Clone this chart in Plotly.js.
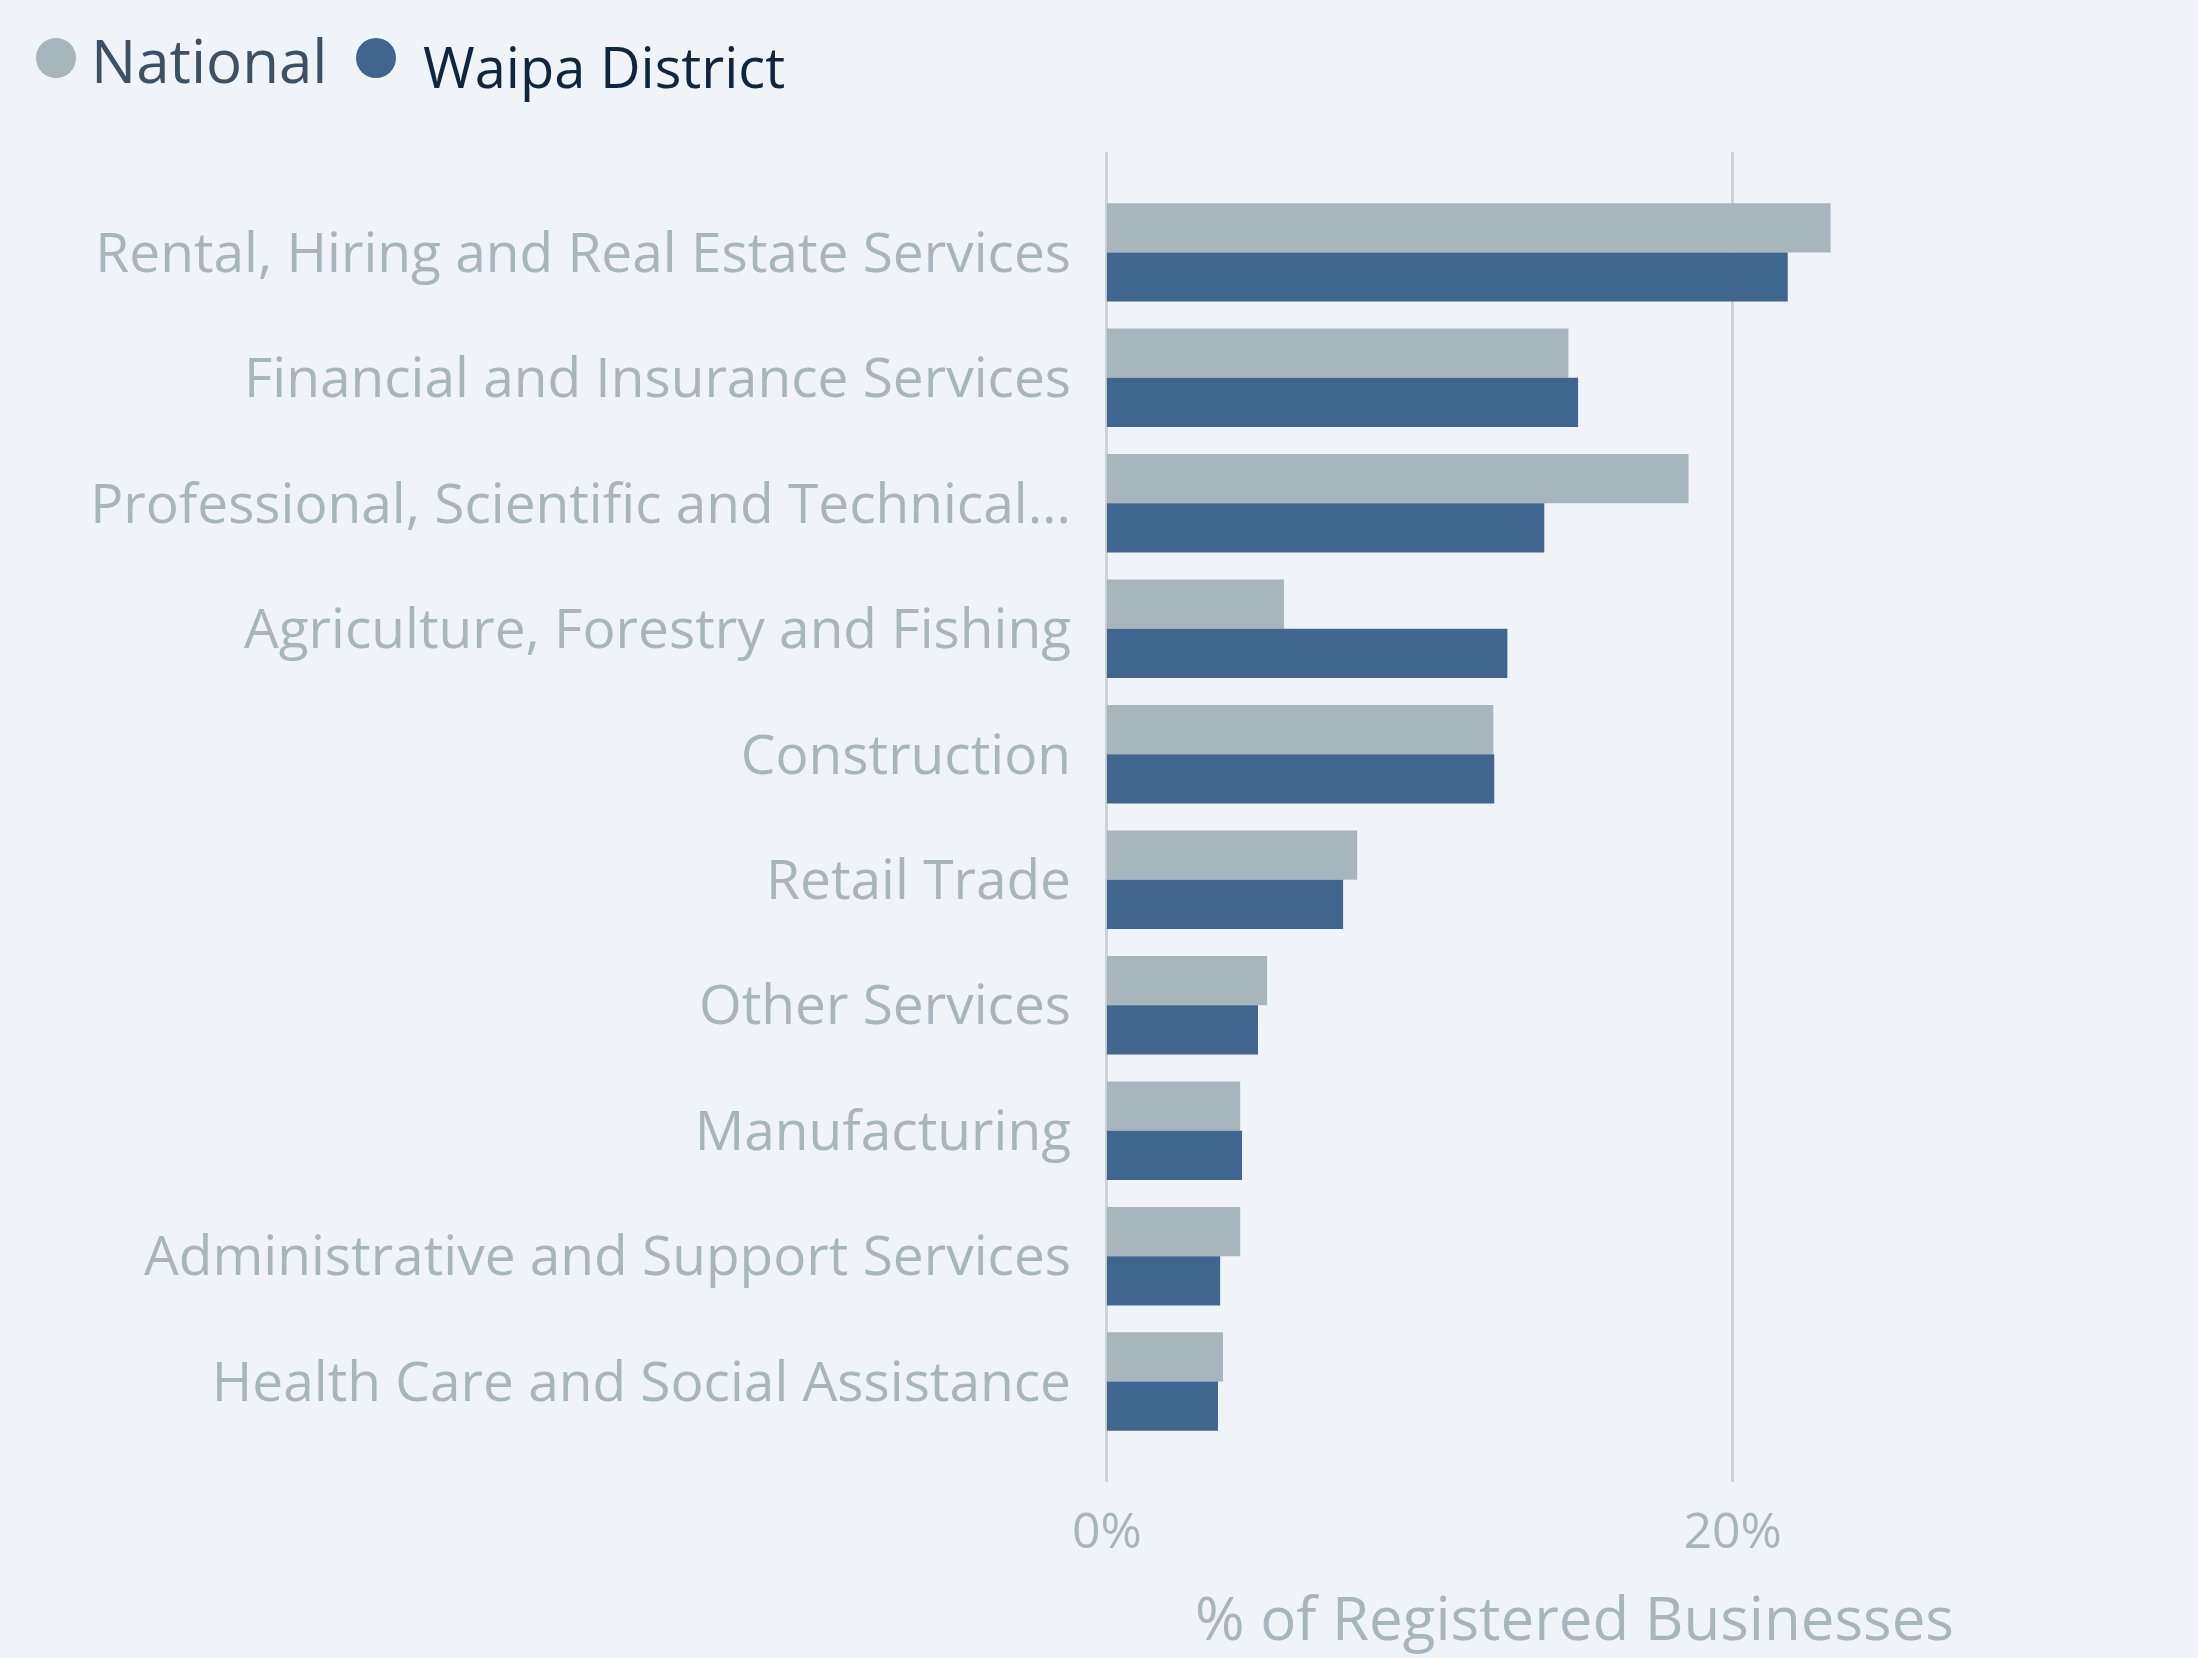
<!DOCTYPE html>
<html>
<head>
<meta charset="utf-8">
<script src="https://cdn.plot.ly/plotly-3.0.1.min.js"></script>
<style>
  html, body { margin: 0; padding: 0; background: #F0F4F8; }
  #chart { width: 2198px; height: 1658px; }
</style>
</head>
<body>
<div id="chart"></div>
<script>
const categories = [
  "Rental, Hiring and Real Estate Services",
  "Financial and Insurance Services",
  "Professional, Scientific and Technical...",
  "Agriculture, Forestry and Fishing",
  "Construction",
  "Retail Trade",
  "Other Services",
  "Manufacturing",
  "Administrative and Support Services",
  "Health Care and Social Assistance"
];
const nationalValues = [23.13, 14.75, 18.59, 5.66, 12.35, 8.00, 5.12, 4.26, 4.26, 3.71];
const waipaValues    = [21.76, 15.06, 13.98, 12.80, 12.38, 7.55, 4.83, 4.32, 3.62, 3.55];
const seriesNames = ["National", "Waipa District"];
const xTickValues = [0, 20];
const xTickLabels = ["0%", "20%"];

const FONT = "'Open Sans', 'Noto Sans', sans-serif";
const GRAY = "#A7B5BC";
const BLUE = "#40668F";

const traces = [
  {
    type: "bar", orientation: "h", name: seriesNames[0],
    y: categories, x: nationalValues,
    marker: { color: GRAY }, showlegend: false, hoverinfo: "x+y"
  },
  {
    type: "bar", orientation: "h", name: seriesNames[1],
    y: categories, x: waipaValues,
    marker: { color: BLUE }, showlegend: false, hoverinfo: "x+y"
  }
];

// plot-area geometry helpers (paper coords from pixel positions)
const L = 1105, R = 154, T = 152, B = 176, W = 2198, H = 1658;
const pw = W - L - R, ph = H - T - B;
const px = v => (v - L) / pw;
const py = v => (H - B - v) / ph;

const layout = {
  width: W, height: H,
  paper_bgcolor: "#F0F4F8", plot_bgcolor: "#F0F4F8",
  margin: { l: L, r: R, t: T, b: B, pad: 0 },
  font: { family: FONT, color: GRAY },
  barmode: "group", bargap: 0.215, bargroupgap: 0,
  showlegend: false,
  xaxis: {
    range: [-0.06, 29.95], tickmode: "array", tickvals: xTickValues, ticktext: xTickLabels,
    showgrid: true, gridcolor: "#CBD3D9", gridwidth: 3,
    zeroline: false, showline: false, ticks: "",
    tickfont: { family: FONT, size: 50, color: GRAY },
    ticklabelstandoff: 15,
    title: { text: "% of Registered Businesses", font: { family: FONT, size: 60, color: GRAY }, standoff: 37 }
  },
  yaxis: {
    type: "category", categoryarray: categories, categoryorder: "array",
    range: [9.8, -0.8],
    showgrid: false, zeroline: false, showline: false, ticks: "",
    tickfont: { family: FONT, size: 55, color: GRAY },
    ticklabelstandoff: 33
  },
  shapes: [
    { type: "circle", xref: "paper", yref: "paper", xsizemode: "pixel", ysizemode: "pixel",
      xanchor: px(56), yanchor: py(58), x0: -20, x1: 20, y0: -20, y1: 20,
      fillcolor: GRAY, line: { width: 0 } },
    { type: "circle", xref: "paper", yref: "paper", xsizemode: "pixel", ysizemode: "pixel",
      xanchor: px(376), yanchor: py(58), x0: -20, x1: 20, y0: -20, y1: 20,
      fillcolor: BLUE, line: { width: 0 } }
  ],
  annotations: [
    { xref: "paper", yref: "paper", x: px(89), y: py(60), xanchor: "left", yanchor: "middle",
      text: seriesNames[0], showarrow: false, font: { family: FONT, size: 60, color: "#3D5166" } },
    { xref: "paper", yref: "paper", x: px(421), y: py(66), xanchor: "left", yanchor: "middle",
      text: seriesNames[1], showarrow: false, font: { family: FONT, size: 56, color: "#10263F" } }
  ]
};

Plotly.newPlot("chart", traces, layout, { displayModeBar: false, staticPlot: true });
</script>
</body>
</html>
